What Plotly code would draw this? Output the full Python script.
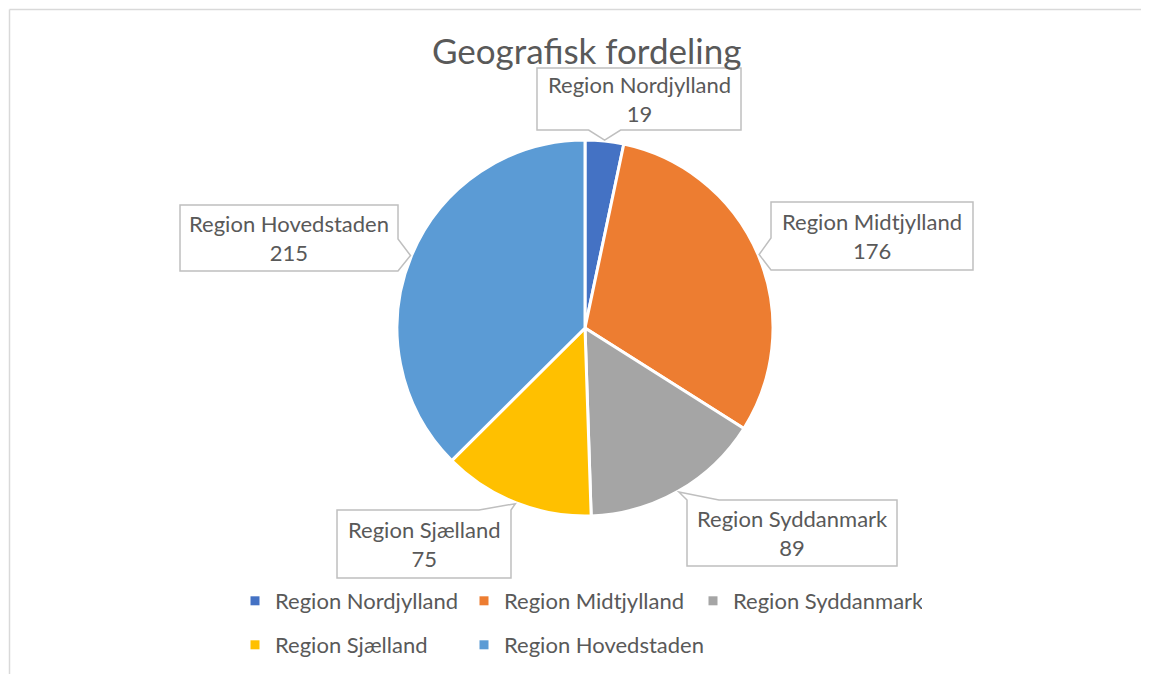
import math
import plotly.graph_objects as go

# ---- data ----
labels = ["Region Nordjylland", "Region Midtjylland", "Region Syddanmark",
          "Region Sjælland", "Region Hovedstaden"]
values = [19, 176, 89, 75, 215]
colors = ["#4472C4", "#ED7D31", "#A5A5A5", "#FFC000", "#5B9BD5"]
title_text = "Geografisk fordeling"

# ---- layout constants (pixels, in screenshot coordinates) ----
W, H = 1149, 674
OFF = 8  # page body margin
CX, CY, R = 585, 328, 188
FONT = "Lato"
TXT = "#595959"
EDGE = "#BFBFBF"
box_centers = [(639, 99), (872, 236), (792, 533), (424, 544), (289, 238)]
box_half = [(102, 31), (101, 34), (105, 33), (87, 34), (109, 33)]
WEDGE = 32


def px(x):
    return (x - OFF) / W


def py(y):
    return 1 - (y - OFF) / H


def callout_path(x0, y0, x1, y1, tx, ty):
    """Rectangle outline (screen px) with a wedge pointing at (tx, ty)."""
    def base(lo, hi, c):
        c = min(max(c, lo + WEDGE / 2), hi - WEDGE / 2)
        return c - WEDGE / 2, c + WEDGE / 2

    top, right, bottom, left = [], [], [], []
    if ty < y0:
        a, b = base(x0, x1, tx)
        top = [(a, y0), (tx, ty), (b, y0)]
    elif ty > y1:
        a, b = base(x0, x1, tx)
        bottom = [(b, y1), (tx, ty), (a, y1)]
    elif tx < x0:
        a, b = base(y0, y1, ty)
        left = [(x0, b), (tx, ty), (x0, a)]
    elif tx > x1:
        a, b = base(y0, y1, ty)
        right = [(x1, a), (tx, ty), (x1, b)]
    pts = [(x0, y0)] + top + [(x1, y0)] + right + [(x1, y1)] + bottom \
        + [(x0, y1)] + left
    d = "M " + " L ".join(f"{px(x):.5f},{py(y):.5f}" for x, y in pts) + " Z"
    return d


fig = go.Figure()
fig.add_trace(go.Pie(
    labels=labels, values=values, sort=False, direction="clockwise",
    rotation=0, marker=dict(colors=colors, line=dict(color="white", width=3)),
    textinfo="none", hoverinfo="label+value", showlegend=False,
    domain=dict(x=[px(CX - R), px(CX + R)], y=[py(CY + R), py(CY - R)]),
))

for i, (lab, col) in enumerate(zip(labels, colors)):
    fig.add_trace(go.Scatter(
        x=[None], y=[None], mode="markers", name=lab,
        marker=dict(symbol="square", size=9, color=col),
        legend="legend" if i < 3 else "legend2", hoverinfo="skip",
    ))
# spacer so the last entry of the second row is not clipped
fig.add_trace(go.Scatter(x=[None], y=[None], mode="markers", name=" ",
                         marker=dict(size=1, color="rgba(0,0,0,0)"),
                         legend="legend2", hoverinfo="skip"))

total = sum(values)
shapes = []
annotations = []
cum = 0
for i, v in enumerate(values):
    mid = (cum + v / 2) / total * 2 * math.pi
    cum += v
    tx = CX + (R + 1) * math.sin(mid)
    ty = CY - (R + 1) * math.cos(mid)
    bx, by = box_centers[i]
    hw, hh = box_half[i]
    shapes.append(dict(type="path", xref="paper", yref="paper",
                       path=callout_path(bx - hw, by - hh, bx + hw, by + hh,
                                         tx, ty),
                       line=dict(color=EDGE, width=1.5),
                       fillcolor="white", layer="above"))
    annotations.append(dict(
        x=px(bx), y=py(by), xref="paper", yref="paper",
        text=f"{labels[i]}<br>{v}", showarrow=False,
        font=dict(family=FONT, size=22, color=TXT),
        xanchor="center", yanchor="middle", align="center",
    ))

annotations.append(dict(
    x=px(586), y=py(50), xref="paper", yref="paper", text=title_text,
    showarrow=False, font=dict(family=FONT, size=35, color=TXT),
    xanchor="center", yanchor="middle"))

shapes.append(dict(type="line", xref="paper", yref="paper",
                   x0=px(9.5), y0=py(9.5), x1=1, y1=py(9.5),
                   line=dict(color="#D9D9D9", width=1.5), layer="below"))
shapes.append(dict(type="line", xref="paper", yref="paper",
                   x0=px(9.5), y0=py(9.5), x1=px(9.5), y1=0,
                   line=dict(color="#D9D9D9", width=1.5), layer="below"))

legend_common = dict(orientation="h", xanchor="left", yanchor="middle",
                     font=dict(family=FONT, size=22, color=TXT),
                     entrywidth=184, entrywidthmode="pixels",
                     bgcolor="rgba(0,0,0,0)", itemclick=False)

fig.update_layout(
    width=W, height=H,
    margin=dict(l=0, r=0, t=0, b=0),
    paper_bgcolor="white", plot_bgcolor="white",
    xaxis=dict(visible=False), yaxis=dict(visible=False),
    shapes=shapes, annotations=annotations,
    legend=dict(x=px(235), y=py(601), **legend_common),
    legend2=dict(x=px(235), y=py(645), **legend_common),
    showlegend=True,
)

fig.write_html("out.html")
